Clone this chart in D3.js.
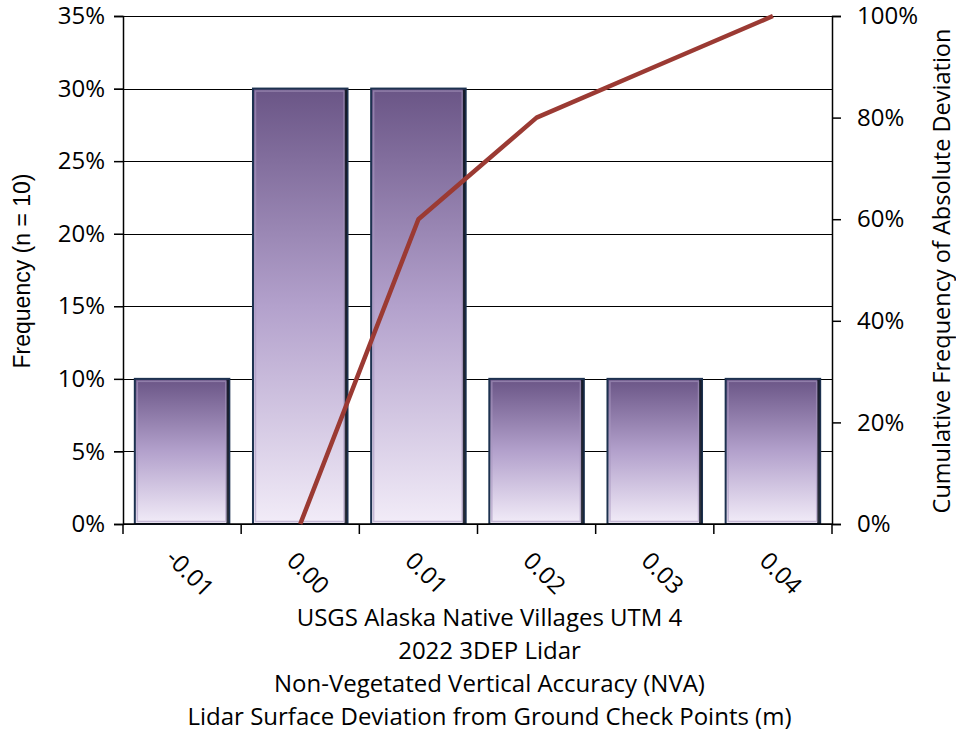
<!DOCTYPE html>
<html><head><meta charset="utf-8">
<script src="https://cdn.jsdelivr.net/npm/d3@7"></script>
<style>body{margin:0;background:#fff;} svg{display:block;}</style>
</head><body>
<svg id="chart" width="956" height="735"></svg>
<script>
const categories = ["-0.01","0.00","0.01","0.02","0.03","0.04"];
const frequency = [0.10,0.30,0.30,0.10,0.10,0.10];
const cumCategories = ["0.00","0.01","0.02","0.03","0.04"];
const cumulative = [0.00,0.60,0.80,0.90,1.00];
const leftTicks = [0,0.05,0.10,0.15,0.20,0.25,0.30,0.35];
const rightTicks = [0,0.2,0.4,0.6,0.8,1.0];
const titleLines = ["USGS Alaska Native Villages UTM 4","2022 3DEP Lidar","Non-Vegetated Vertical Accuracy (NVA)","Lidar Surface Deviation from Ground Check Points (m)"];
const yLeftTitle = "Frequency (n = 10)";
const yRightTitle = "Cumulative Frequency of Absolute Deviation";

const svg = d3.select("#chart");
const m = {left:123, right:832, top:16, bottom:524};
const font = "Open Sans, Lato, sans-serif";

const x = d3.scaleBand().domain(categories).range([m.left, m.right]).paddingInner(0.2).paddingOuter(0.1);
const yL = d3.scaleLinear().domain([0,0.35]).range([m.bottom, m.top]);
const yR = d3.scaleLinear().domain([0,1]).range([m.bottom, m.top]);

const defs = svg.append("defs");
const grad = defs.append("linearGradient").attr("id","barGrad").attr("x1",0).attr("y1",0).attr("x2",0).attr("y2",1);
grad.append("stop").attr("offset","0%").attr("stop-color","#6a5586");
grad.append("stop").attr("offset","50%").attr("stop-color","#b3a1cc");
grad.append("stop").attr("offset","100%").attr("stop-color","#f2ecf8");

// gridlines
svg.append("g").selectAll("line").data(leftTicks).join("line")
  .attr("x1", m.left-9).attr("x2", m.right)
  .attr("y1", d=>Math.round(yL(d))+0.5).attr("y2", d=>Math.round(yL(d))+0.5)
  .attr("stroke","#000").attr("stroke-width",1.2);

// bars
const bars = svg.append("g").selectAll("g").data(categories).join("g");
bars.append("rect")
  .attr("x", d=>x(d)).attr("y", (d,i)=>yL(frequency[i]))
  .attr("width", x.bandwidth()).attr("height", (d,i)=>yL(0)-yL(frequency[i]))
  .attr("fill","url(#barGrad)").attr("stroke","#1d3250").attr("stroke-width",2);
bars.append("rect")
  .attr("x", d=>x(d)+x.bandwidth()-3).attr("y", (d,i)=>yL(frequency[i])+1)
  .attr("width", 2.5).attr("height", (d,i)=>yL(0)-yL(frequency[i])-2)
  .attr("fill","#0b121b").attr("opacity",0.85);
bars.append("rect")
  .attr("x", d=>x(d)+2.5).attr("y", (d,i)=>yL(frequency[i])+2.5)
  .attr("width", x.bandwidth()-6).attr("height", (d,i)=>yL(0)-yL(frequency[i])-5)
  .attr("fill","none").attr("stroke","#a898c0").attr("stroke-width",1.5).attr("opacity",0.6);

// axes
const gL = svg.append("g").attr("transform",`translate(${m.left},0)`)
  .call(d3.axisLeft(yL).tickValues(leftTicks).tickFormat(d3.format(".0%")).tickSize(9).tickPadding(9));
const gR = svg.append("g").attr("transform",`translate(${m.right},0)`)
  .call(d3.axisRight(yR).tickValues(rightTicks).tickFormat(d3.format(".0%")).tickSize(9).tickPadding(16));
const gB = svg.append("g").attr("transform",`translate(0,${m.bottom})`)
  .call(d3.axisBottom(x).tickSize(0).tickPadding(0));
[gL,gR,gB].forEach(g=>{
  g.select(".domain").attr("stroke","#000").attr("stroke-width",1.5);
  g.selectAll(".tick line").attr("stroke","#000").attr("stroke-width",1.5);
  g.selectAll("text").attr("font-family",font).attr("font-size",24).attr("fill","#000");
});
gB.select(".domain").attr("d",`M${m.left},0H${m.right}`);
// category boundary tick marks
const bounds = d3.range(categories.length+1).map(i=>m.left + i*(m.right-m.left)/categories.length);
svg.append("g").selectAll("line").data(bounds).join("line")
  .attr("x1",d=>d).attr("x2",d=>d).attr("y1",m.bottom).attr("y2",m.bottom+10)
  .attr("stroke","#000").attr("stroke-width",1.5);
gB.selectAll(".tick text")
  .attr("text-anchor","middle").attr("dy",0)
  .attr("transform","translate(2,55) rotate(45)");

// cumulative line
const line = d3.line().x((d,i)=>x(cumCategories[i])+x.bandwidth()/2).y(d=>yR(d));
svg.append("path").datum(cumulative).attr("d",line)
  .attr("fill","none").attr("stroke","#9b3a33").attr("stroke-width",4.5).attr("stroke-linejoin","round");

// titles
svg.append("g").selectAll("text").data(titleLines).join("text")
  .attr("x",(m.left+m.right)/2 + 12).attr("y",(d,i)=>626+i*33)
  .attr("text-anchor","middle").attr("font-family",font).attr("font-size",24).attr("fill","#000").text(d=>d);
svg.append("text").attr("transform","translate(30,271) rotate(-90)")
  .attr("text-anchor","middle").attr("font-family","Liberation Sans, Arial, sans-serif").attr("font-size",23).text(yLeftTitle);
svg.append("text").attr("transform","translate(950,271) rotate(-90)")
  .attr("text-anchor","middle").attr("font-family",font).attr("font-size",23.5).text(yRightTitle);
</script>
</body></html>
